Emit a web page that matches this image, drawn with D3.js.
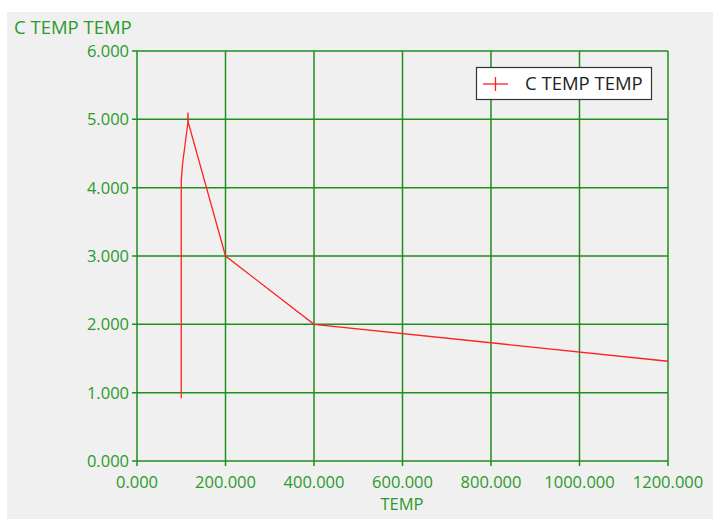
<!DOCTYPE html>
<html>
<head>
<script src="https://d3js.org/d3.v7.min.js"></script>
<style>
  body { margin: 0; background: #fff; }
  text { font-family: 'Open Sans', sans-serif; }
  .tick-label { fill: #2a9a2a; font-size: 16.5px; }
</style>
</head>
<body>
<svg id="chart"></svg>
<script>
var width = 713, height = 519;

// data
var temp  = [100, 100, 103, 115, 115, 116, 200, 400, 1200];
var cTemp = [0.92, 4.1, 4.35, 4.95, 5.1, 4.95, 3.0, 2.0, 1.46];
var xTicks = [0, 200, 400, 600, 800, 1000, 1200];
var yTicks = [0, 1, 2, 3, 4, 5, 6];
var seriesName = "C TEMP TEMP";

var gridColor = "#1f8f1f";
var svg = d3.select("#chart").attr("width", width).attr("height", height);

// gray panel
svg.append("rect").attr("x", 7).attr("y", 12).attr("width", 706).attr("height", 507).attr("fill", "#f0f0f0");

var x = d3.scaleLinear().domain([0, 1200]).range([137, 668]);
var y = d3.scaleLinear().domain([0, 6]).range([461, 51]);

// grid
svg.append("g").selectAll("line").data(xTicks).enter().append("line")
  .attr("x1", function(d) { return x(d); }).attr("x2", function(d) { return x(d); })
  .attr("y1", y(6)).attr("y2", y(0) + 5)
  .attr("stroke", gridColor).attr("stroke-width", 1.5);
svg.append("g").selectAll("line").data(yTicks).enter().append("line")
  .attr("y1", function(d) { return y(d); }).attr("y2", function(d) { return y(d); })
  .attr("x1", x(0) - 5).attr("x2", x(1200))
  .attr("stroke", gridColor).attr("stroke-width", 1.5);

// tick labels
svg.append("g").selectAll("text").data(yTicks).enter().append("text")
  .attr("class", "tick-label")
  .attr("x", x(0) - 8).attr("y", function(d) { return y(d) + 6; })
  .attr("text-anchor", "end")
  .text(function(d) { return d3.format(".3f")(d); });
svg.append("g").selectAll("text").data(xTicks).enter().append("text")
  .attr("class", "tick-label")
  .attr("x", function(d) { return x(d); }).attr("y", 488)
  .attr("text-anchor", "middle")
  .text(function(d) { return d3.format(".3f")(d); });

// axis titles
svg.append("text").attr("class", "tick-label").attr("x", 402).attr("y", 510)
  .attr("text-anchor", "middle").text("TEMP");
svg.append("text").attr("class", "tick-label").style("font-size", "18.5px").attr("x", 14).attr("y", 34)
  .text(seriesName);

// series line
var pts = temp.map(function(t, i) { return [t, cTemp[i]]; });
var line = d3.line().x(function(d) { return x(d[0]); }).y(function(d) { return y(d[1]); });
svg.append("path").datum(pts)
  .attr("d", line)
  .attr("fill", "none").attr("stroke", "#ff2020").attr("stroke-width", 1.3);

// legend
var lg = svg.append("g");
lg.append("rect").attr("x", 476.5).attr("y", 67.5).attr("width", 175).attr("height", 32)
  .attr("fill", "#fff").attr("stroke", "#333").attr("stroke-width", 1.2);
lg.append("line").attr("x1", 483).attr("x2", 508).attr("y1", 84).attr("y2", 84).attr("stroke", "#ff2020").attr("stroke-width", 1.3);
lg.append("line").attr("x1", 495.5).attr("x2", 495.5).attr("y1", 77).attr("y2", 91).attr("stroke", "#ff2020").attr("stroke-width", 1.3);
lg.append("text").attr("x", 525).attr("y", 90).attr("fill", "#222").style("font-size", "18.5px").text(seriesName);
</script>
</body>
</html>
